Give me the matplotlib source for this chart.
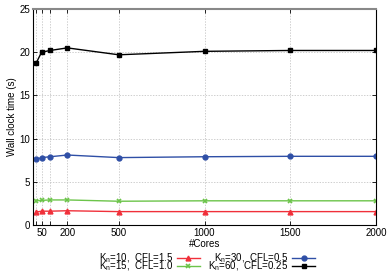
import numpy as np
import matplotlib
matplotlib.use("Agg")
import matplotlib.pyplot as plt

cores = [20, 50, 100, 200, 500, 1000, 1500, 2000]
t_kn10 = [1.5, 1.6, 1.6, 1.65, 1.55, 1.55, 1.55, 1.55]
t_kn15 = [2.8, 2.85, 2.9, 2.9, 2.75, 2.8, 2.8, 2.8]
t_kn30 = [7.6, 7.8, 7.9, 8.1, 7.8, 7.9, 7.95, 7.95]
t_kn60 = [18.8, 20.0, 20.2, 20.5, 19.7, 20.1, 20.2, 20.2]

labels = [r"K$_n$=10,  CFL=1.5", r"K$_n$=15,  CFL=1.0",
          r"K$_n$=30,  CFL=0.5", r"K$_n$=60,  CFL=0.25"]
xtick_labels = ["", "50", "", "200", "500", "1000", "1500", "2000"]

plt.rcParams['font.family'] = ['Liberation Sans', 'DejaVu Sans']
plt.rcParams['font.size'] = 7
plt.rcParams['mathtext.fontset'] = 'custom'
plt.rcParams['mathtext.rm'] = 'Liberation Sans'
plt.rcParams['mathtext.it'] = 'Liberation Sans'

fig = plt.figure(figsize=(3.9, 2.73), dpi=100)
ax = fig.add_axes([33/390, 1 - 225/273, (376-33)/390, (225-9)/273])

ax.plot(cores, t_kn10, color='#f0303a', marker='^', ms=3.5, lw=1.0, label=labels[0])
ax.plot(cores, t_kn15, color='#6cc44a', marker='x', ms=3.5, mew=1.2, lw=1.0, label=labels[1])
ax.plot(cores, t_kn30, color='#2f4fa6', marker='o', ms=3.5, lw=1.0, label=labels[2])
ax.plot(cores, t_kn60, color='black', marker='s', ms=3.5, lw=1.0, label=labels[3])

ax.set_xlim(0, 2000)
ax.set_ylim(0, 25)
ax.set_xticks(cores)
ax.set_xticklabels(xtick_labels)
ax.set_yticks(np.arange(0, 26, 5))
ax.grid(True, color='#bbbbbb', ls=(0, (2, 2)), lw=0.5)
ax.tick_params(direction='in', length=3, width=0.6, pad=2, top=True, right=True)
ax.spines['top'].set_color('#888888')
ax.spines['top'].set_linewidth(1.5)
for s in ['left', 'right', 'bottom']:
    ax.spines[s].set_linewidth(0.8)

ax.set_xlabel("#Cores", labelpad=1)
ax.set_ylabel("Wall clock time (s)", labelpad=2)

fig.legend(loc='lower center', bbox_to_anchor=(0.53, -0.025), ncol=2, frameon=False,
           markerfirst=False, handlelength=2.3, columnspacing=0.9, labelspacing=-0.55,
           handletextpad=0.4, borderpad=0.2, fontsize=7)

fig.savefig("out.png", dpi=100)
